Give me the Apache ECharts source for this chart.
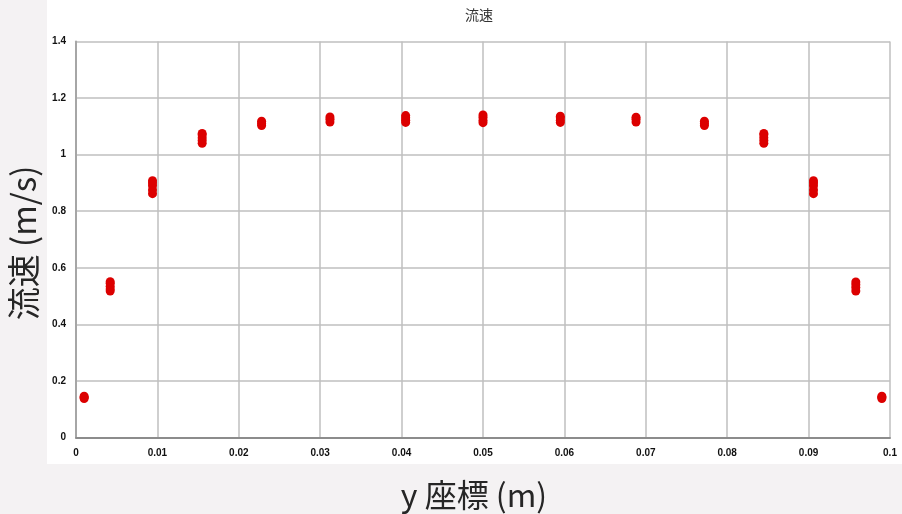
<!DOCTYPE html>
<html>
<head>
<meta charset="utf-8">
<script src="https://cdn.jsdelivr.net/npm/echarts@6/dist/echarts.min.js"></script>
<style>
  html, body { margin: 0; padding: 0; background: #f4f2f3; }
  #main { width: 902px; height: 514px; }
</style>
</head>
<body>
<div id="main"></div>
<script>
// y座標の位置 (m)
var positions = [0.001, 0.0042, 0.0094, 0.0155, 0.0228, 0.0312, 0.0405, 0.05,
                 0.0595, 0.0688, 0.0772, 0.0845, 0.0906, 0.0958, 0.099];

// 各位置での流速の測定値 (m/s)
var speeds = [
  [0.138, 0.142, 0.146],
  [0.518, 0.525, 0.535, 0.545, 0.551],
  [0.862, 0.875, 0.89, 0.9, 0.908],
  [1.04, 1.05, 1.06, 1.07, 1.075],
  [1.103, 1.11, 1.118],
  [1.115, 1.125, 1.133],
  [1.114, 1.122, 1.13, 1.138],
  [1.113, 1.122, 1.132, 1.14],
  [1.114, 1.122, 1.13, 1.136],
  [1.115, 1.125, 1.132],
  [1.103, 1.11, 1.118],
  [1.04, 1.05, 1.06, 1.07, 1.075],
  [0.862, 0.875, 0.89, 0.9, 0.908],
  [0.518, 0.53, 0.54, 0.55],
  [0.138, 0.142, 0.146]
];

// 散布図用の点を組み立てる
var points = [];
for (var i = 0; i < positions.length; i++) {
  for (var j = 0; j < speeds[i].length; j++) {
    points.push([positions[i], speeds[i][j]]);
  }
}

var myChart = echarts.init(document.getElementById('main'));

var option = {
  backgroundColor: '#f4f2f3',
  animation: false,
  title: {
    text: '流速',
    left: 474,
    top: 3,
    textAlign: 'center',
    textStyle: {
      fontFamily: 'Noto Sans CJK JP',
      fontSize: 14,
      fontWeight: 'normal',
      color: '#333'
    }
  },
  // 白いチャート領域と軸タイトル
  graphic: [
    {
      type: 'rect',
      z: -10,
      shape: { x: 47, y: 0, width: 855, height: 464 },
      style: { fill: '#ffffff' }
    },
    {
      type: 'text',
      x: 474,
      y: 495,
      style: {
        text: 'y 座標 (m)',
        fontFamily: 'Noto Sans CJK JP',
        fontSize: 32,
        fill: '#262626',
        align: 'center',
        verticalAlign: 'middle'
      }
    },
    {
      type: 'text',
      x: 23,
      y: 243,
      rotation: Math.PI / 2,
      style: {
        text: '流速 (m/s)',
        fontFamily: 'Noto Sans CJK JP',
        fontSize: 33,
        fill: '#262626',
        align: 'center',
        verticalAlign: 'middle'
      }
    }
  ],
  grid: {
    left: 76,
    right: 12,
    top: 41.5,
    bottom: 76.5
  },
  xAxis: {
    type: 'value',
    min: 0,
    max: 0.1,
    interval: 0.01,
    axisLine: { lineStyle: { color: '#8c8c8c', width: 2 } },
    axisTick: { show: false },
    axisLabel: {
      margin: 11,
      fontFamily: 'Liberation Sans',
      fontSize: 10,
      fontWeight: 'bold',
      color: '#111',
      formatter: function (v) { return +v.toFixed(2); }
    },
    splitLine: { show: true, lineStyle: { color: '#bfbfbf', width: 1.5 } }
  },
  yAxis: {
    type: 'value',
    min: 0,
    max: 1.4,
    interval: 0.2,
    axisLine: { show: true, lineStyle: { color: '#a6a6a6', width: 2 } },
    axisTick: { show: false },
    axisLabel: {
      margin: 10,
      fontFamily: 'Liberation Sans',
      fontSize: 10,
      fontWeight: 'bold',
      color: '#111',
      formatter: function (v) { return +v.toFixed(1); }
    },
    splitLine: { show: true, lineStyle: { color: '#bfbfbf', width: 1.5 } }
  },
  series: [
    {
      name: '流速',
      type: 'scatter',
      data: points,
      symbol: 'circle',
      symbolSize: 9,
      itemStyle: { color: '#dc0000', opacity: 1 }
    }
  ]
};

myChart.setOption(option);
</script>
</body>
</html>
